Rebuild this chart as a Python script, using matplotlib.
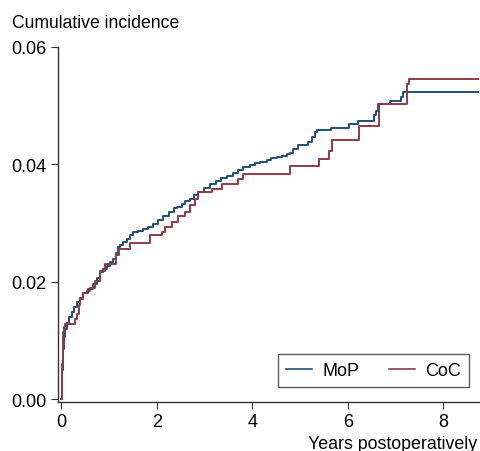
import numpy as np
import matplotlib
matplotlib.use("Agg")
from matplotlib import pyplot as plt

plt.rcParams['font.family'] = ['Liberation Sans', 'DejaVu Sans']

# MoP: step times (years) and cumulative incidence
mop_t = [0, 0.02, 0.04, 0.06, 0.08, 0.11, 0.16, 0.22, 0.27, 0.32, 0.39, 0.46, 0.56,
         0.67, 0.74, 0.81, 0.88, 0.95, 1.02, 1.09, 1.15, 1.19, 1.23, 1.30, 1.37, 1.44,
         1.51, 1.60, 1.72, 1.82, 1.93, 2.03, 2.14, 2.25, 2.35, 2.42, 2.52, 2.60, 2.69,
         2.78, 2.86, 2.98, 3.11, 3.25, 3.35, 3.47, 3.60, 3.70, 3.81, 3.95, 4.05, 4.16,
         4.30, 4.40, 4.51, 4.62, 4.72, 4.79, 4.86, 4.96, 5.17, 5.25, 5.32, 5.35, 5.65,
         6.03, 6.21, 6.55, 6.60, 6.64, 6.88, 7.11, 7.16, 8.73]
mop_v = [0, 0.005, 0.0085, 0.0105, 0.012, 0.013, 0.014, 0.0148, 0.0157, 0.0165, 0.0173,
         0.018, 0.0188, 0.0196, 0.0206, 0.0216, 0.0222, 0.0227, 0.0233, 0.0239, 0.0249,
         0.0259, 0.0262, 0.0268, 0.0273, 0.0280, 0.0284, 0.0287, 0.029, 0.0294, 0.0298,
         0.0305, 0.0312, 0.0318, 0.0325, 0.0328, 0.0333, 0.0337, 0.0341, 0.0347, 0.0353,
         0.0360, 0.0367, 0.0372, 0.0376, 0.0381, 0.0386, 0.0390, 0.0395, 0.0399, 0.0402,
         0.0404, 0.0407, 0.0410, 0.0412, 0.0415, 0.0418, 0.042, 0.0426, 0.0433, 0.0438,
         0.0447, 0.0455, 0.0459, 0.0462, 0.0469, 0.0474, 0.0484, 0.0491, 0.0503, 0.0508,
         0.0515, 0.0523, 0.0523]

# CoC
coc_t = [0, 0.02, 0.04, 0.06, 0.08, 0.29, 0.33, 0.36, 0.39, 0.46, 0.53, 0.60, 0.71,
         0.81, 0.92, 1.15, 1.20, 1.44, 1.86, 2.11, 2.17, 2.32, 2.45, 2.59, 2.69, 2.80,
         2.86, 3.15, 3.37, 3.70, 3.81, 4.79, 5.40, 5.60, 5.66, 6.23, 6.66, 7.24, 7.29, 8.73]
coc_v = [0, 0.006, 0.0114, 0.0122, 0.0128, 0.0137, 0.0145, 0.016, 0.017, 0.018, 0.0185,
         0.019, 0.0201, 0.0219, 0.023, 0.0245, 0.0255, 0.0266, 0.0279, 0.0285, 0.0293,
         0.0301, 0.0312, 0.0318, 0.033, 0.0341, 0.0353, 0.0358, 0.0367, 0.0375, 0.0384,
         0.0397, 0.0409, 0.0423, 0.0442, 0.0465, 0.0503, 0.0537, 0.0545, 0.0545]

x_ticks = [0, 2, 4, 6, 8]
y_ticks = [0.00, 0.02, 0.04, 0.06]

BLUE = "#1f4f7a"
RED = "#903a45"

fig = plt.figure(figsize=(4.8, 4.52), dpi=100)
ax = fig.add_axes([57.5/480, 49/452, 422.5/480, 355/452])

ax.step(mop_t, mop_v, where='post', color=BLUE, lw=1.4, label='MoP')
ax.step(coc_t, coc_v, where='post', color=RED, lw=1.4, label='CoC')

ax.set_xlim(-0.08, 8.77)
ax.set_ylim(-0.0005, 0.06)
ax.set_xticks(x_ticks)
ax.set_xticklabels([str(x) for x in x_ticks])
ax.set_yticks(y_ticks)
ax.set_yticklabels(["%.2f" % y for y in y_ticks])

for s in ['top', 'right']:
    ax.spines[s].set_visible(False)
for s in ['left', 'bottom']:
    ax.spines[s].set_color('#333333')
    ax.spines[s].set_linewidth(1.0)
ax.tick_params(direction='out', length=5, width=0.8, color='#333333',
               labelsize=13, pad=3)

fig.text(12/480, 1 - 24/452, "Cumulative incidence", fontsize=12.7, ha='left', va='center')
# right-aligned just inside the edge so the whole label stays visible
fig.text(477/480, 1 - 436/452, "Years postoperatively", fontsize=12.8, ha='right', va='top')

leg = ax.legend(ncol=2, loc='lower right', bbox_to_anchor=(469/480, 1 - 388/452),
                bbox_transform=fig.transFigure, borderaxespad=0, fontsize=13,
                frameon=True, fancybox=False, handlelength=1.45, columnspacing=1.65,
                handletextpad=0.55, borderpad=0.45)
leg.get_frame().set_edgecolor('#333333')
leg.get_frame().set_linewidth(1.0)
for line in leg.get_lines():
    line.set_linewidth(1.2)

fig.savefig("out.png", dpi=100)
